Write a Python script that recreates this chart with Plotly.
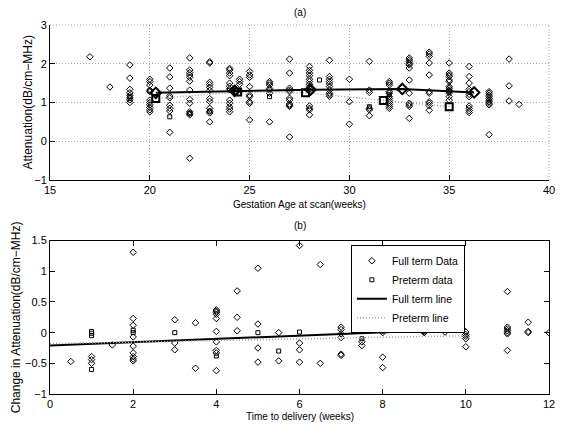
import plotly.graph_objects as go
from plotly.subplots import make_subplots

# ---------------- Panel (a) data ----------------
ga_weeks = [17, 18, 19, 20, 21, 22, 23, 24, 24.3, 24.5, 25, 26, 27, 28, 29, 30,
            31, 32, 33, 34, 35, 36, 37, 38, 38.5]
ga_full_values = [
    [2.18],
    [1.40],
    [1.97, 1.63, 1.34, 1.25, 1.18, 1.12, 1.07, 1.0],
    [1.6, 1.54, 1.45, 1.32, 1.28, 1.06, 1.0, 0.94, 0.87, 0.81, 0.76],
    [1.89, 1.66, 1.37, 1.17, 1.12, 0.93, 0.85, 0.78, 0.23],
    [2.15, 1.84, 1.77, 1.71, 1.65, 1.55, 1.32, 1.08, 0.98, 0.76, 0.72, 0.68, -0.44],
    [2.05, 2.02, 1.52, 1.46, 1.39, 1.31, 1.1, 1.03, 0.85, 0.77, 0.73, 0.5],
    [1.88, 1.84, 1.76, 1.69, 1.5, 1.42, 1.35, 1.06, 0.98, 0.89, 0.83, 0.76],
    [1.35, 1.3, 1.26],
    [1.6, 1.54, 1.47],
    [1.8, 1.71, 1.65, 1.41, 1.19, 1.15, 1.02, 0.98, 0.55],
    [1.54, 1.5, 1.45, 1.36, 1.32, 1.24, 0.5],
    [2.12, 1.76, 1.37, 1.32, 1.28, 1.11, 1.06, 0.96, 0.93, 0.9, 0.11],
    [1.93, 1.83, 1.76, 1.69, 1.6, 1.54, 1.47, 1.41, 1.35, 1.3, 0.91, 0.85, 0.81, 0.68],
    [2.09, 1.67, 1.6, 1.54, 1.48, 1.41, 1.32, 1.24, 1.2, 1.16],
    [1.6, 1.02, 0.44],
    [2.06, 1.32, 1.26, 0.85, 0.81, 0.66],
    [1.54, 1.5, 1.45, 1.28, 1.24, 1.15, 1.1, 1.05, 1.0, 0.95, 0.9, 0.85],
    [2.15, 2.1, 2.05, 2.0, 1.97, 1.89, 1.58, 1.24, 0.98, 0.94, 0.9, 0.59],
    [2.3, 2.25, 2.19, 2.02, 1.71, 1.28, 1.24, 1.02, 0.98, 0.92, 0.8],
    [2.02, 1.76, 1.71, 1.67, 1.58, 1.54, 1.41, 1.37, 1.32, 1.28, 1.24, 1.15, 1.06],
    [1.93, 1.67, 1.5, 1.34, 1.28, 1.21, 1.15, 0.91, 0.85, 0.79, 0.74],
    [1.28, 1.24, 1.19, 1.15, 1.1, 1.06, 1.02, 0.98, 0.94, 0.17],
    [2.12, 1.43, 1.04],
    [0.95],
]
ga_pre_x = [19, 20, 21, 22, 23, 24, 26, 28.5, 31, 32, 35]
ga_pre_y = [1.15, 1.3, 0.63, 0.72, 0.78, 1.32, 1.15, 1.58, 0.89, 1.2, 1.3]

ga_full_line_x = [20.3, 24.25, 28.05, 32.65, 36.25]
ga_full_line_y = [1.25, 1.30, 1.33, 1.35, 1.26]
ga_pre_line_x = [20.3, 24.4, 27.8, 31.7, 35.0]
ga_pre_line_y = [1.10, 1.27, 1.25, 1.05, 0.89]

# ---------------- Panel (b) data ----------------
td_weeks = [0.5, 1, 1.5, 2, 3, 3.5, 4, 4.5, 5, 5.5, 6, 6.5, 7, 7.5, 8, 9, 9.5, 10, 11, 11.5, 12]
td_full_values = [
    [-0.47],
    [-0.39, -0.44, -0.5],
    [-0.2],
    [1.31, 0.23, 0.12, -0.07, -0.22, -0.33, -0.39, -0.43, -0.46],
    [0.21, -0.17, -0.28],
    [0.16, -0.58],
    [0.37, 0.35, 0.33, 0.3, 0.23, 0.02, -0.15, -0.29, -0.33, -0.62],
    [0.68, 0.25, 0.03],
    [1.05, 0.14, -0.25, -0.48],
    [0.0, -0.46],
    [1.42, -0.17, -0.28, -0.48],
    [1.11, -0.5],
    [0.09, 0.05, -0.02, -0.08, -0.35, -0.37],
    [-0.15, -0.21],
    [0.14, 0.1, 0.07, 0.03, 0.0, -0.4, -0.57],
    [0.05, 0.03, 0.01, 0.0],
    [0.23, 0.01],
    [0.01, -0.03, -0.06, -0.1, -0.23],
    [0.67, 0.09, 0.06, 0.03, 0.0, -0.02, -0.29],
    [0.17, 0.02, 0.0],
    [0.0],
]
td_pre_x = [1, 1, 1, 1, 2, 2, 3, 4, 5, 5.5, 6, 7.5]
td_pre_y = [0.02, -0.01, -0.05, -0.6, 0.04, 0.0, 0.0, -0.38, 0.0, -0.3, 0.01, -0.1]

td_full_line_x = [0, 10]
td_full_line_y = [-0.21, 0.06]
td_pre_line_x = [0, 10]
td_pre_line_y = [-0.18, -0.05]


def expand(xs, groups):
    px, py = [], []
    for x, vals in zip(xs, groups):
        for v in vals:
            px.append(x)
            py.append(v)
    return px, py


FONT = "Liberation Sans, Arial, sans-serif"
GRID = "#a8a8a8"

fig = make_subplots(rows=2, cols=1, vertical_spacing=0.1)

ax_, ay_ = expand(ga_weeks, ga_full_values)
bx_, by_ = expand(td_weeks, td_full_values)

small_d = dict(symbol="diamond-open", size=5, color="black", line=dict(width=1, color="black"))
small_s = dict(symbol="square-open", size=4, color="black", line=dict(width=1, color="black"))

# Panel (a)
fig.add_trace(go.Scatter(x=ax_, y=ay_, mode="markers", marker=small_d, showlegend=False), 1, 1)
fig.add_trace(go.Scatter(x=ga_pre_x, y=ga_pre_y, mode="markers", marker=small_s, showlegend=False), 1, 1)
fig.add_trace(go.Scatter(x=ga_pre_line_x, y=ga_pre_line_y, mode="lines+markers",
                         line=dict(color="#a0a0a0", width=1.5, dash="1px,2px"),
                         marker=dict(symbol="square-open", size=7, color="black",
                                     line=dict(width=2, color="black")),
                         showlegend=False), 1, 1)
fig.add_trace(go.Scatter(x=ga_full_line_x, y=ga_full_line_y, mode="lines+markers",
                         line=dict(color="black", width=2),
                         marker=dict(symbol="diamond-open", size=8, color="black",
                                     line=dict(width=2, color="black")),
                         showlegend=False), 1, 1)

# Panel (b)
fig.add_trace(go.Scatter(x=bx_, y=by_, mode="markers", marker=small_d, name="Full term Data"), 2, 1)
fig.add_trace(go.Scatter(x=td_pre_x, y=td_pre_y, mode="markers", marker=small_s, name="Preterm data"), 2, 1)
fig.add_trace(go.Scatter(x=td_full_line_x, y=td_full_line_y, mode="lines",
                         line=dict(color="black", width=2), name="Full term line"), 2, 1)
fig.add_trace(go.Scatter(x=td_pre_line_x, y=td_pre_line_y, mode="lines",
                         line=dict(color="#a0a0a0", width=1.5, dash="1px,2px"), name="Preterm line"), 2, 1)

tick_font = dict(family=FONT, size=11, color="black")
common = dict(ticks="inside", ticklen=5, tickcolor="black", tickwidth=1,
              showline=True, linecolor="black", linewidth=1, zeroline=False,
              tickfont=tick_font)

fig.update_xaxes(range=[15, 40], tickvals=[15, 20, 25, 30, 35, 40], showgrid=True,
                 gridcolor=GRID, griddash="1px,2px", gridwidth=1, mirror=False,
                 domain=[0, 1], row=1, col=1, **common)
fig.update_yaxes(range=[-1, 3], tickvals=[-1, 0, 1, 2, 3],
                 ticktext=["\u22121", "0", "1", "2", "3"], showgrid=True,
                 gridcolor=GRID, griddash="1px,2px", gridwidth=1, mirror=False,
                 domain=[0.58, 1.0], row=1, col=1, **common)
fig.update_xaxes(range=[0, 12], tickvals=[0, 2, 4, 6, 8, 10, 12], showgrid=False,
                 mirror="ticks", domain=[0, 1], row=2, col=1, **common)
fig.update_yaxes(range=[-1, 1.5], tickvals=[-1, -0.5, 0, 0.5, 1, 1.5],
                 ticktext=["\u22121", "\u22120.5", "0", "0.5", "1", "1.5"],
                 showgrid=False, mirror="ticks", domain=[0, 0.4157], row=2, col=1, **common)

# dotted frame on the top and right edges of panel (a) (grid at the range ends)
frame_shapes = [
    dict(type="line", xref="x domain", yref="y domain", x0=0, x1=1, y0=1, y1=1,
         line=dict(color=GRID, width=1, dash="1px,2px"), layer="below"),
    dict(type="line", xref="x domain", yref="y domain", x0=1, x1=1, y0=0, y1=1,
         line=dict(color=GRID, width=1, dash="1px,2px"), layer="below"),
]

ann_font = dict(family=FONT, size=10, color="black")
ylab_font = dict(family=FONT, size=12, color="black")
annotations = [
    dict(text="(a)", x=0.5, y=1.0, xref="paper", yref="paper", yshift=13,
         showarrow=False, font=ann_font, xanchor="center", yanchor="middle"),
    dict(text="(b)", x=0.5, y=0.4157, xref="paper", yref="paper", yshift=15,
         showarrow=False, font=ann_font, xanchor="center", yanchor="middle"),
    dict(text="Gestation Age at scan(weeks)", x=0.5, y=0.58, xref="paper", yref="paper",
         yshift=-25, showarrow=False, font=ann_font, xanchor="center", yanchor="middle"),
    dict(text="Time to delivery (weeks)", x=0.5, y=0.0, xref="paper", yref="paper",
         yshift=-22, showarrow=False, font=ann_font, xanchor="center", yanchor="middle"),
    dict(text="Attenuation(dB/cm\u2212MHz)", x=0, y=0.79, xref="paper", yref="paper",
         xshift=-22, textangle=-90, showarrow=False, font=ylab_font,
         xanchor="center", yanchor="middle"),
    dict(text="Change in Attenuation(dB/cm\u2212MHz)", x=0, y=0.208, xref="paper", yref="paper",
         xshift=-34, textangle=-90, showarrow=False, font=ylab_font,
         xanchor="center", yanchor="middle"),
]

fig.update_layout(
    width=566, height=426,
    margin=dict(l=50, r=11, t=25, b=32),
    paper_bgcolor="white", plot_bgcolor="white",
    font=dict(family=FONT, size=11, color="black"),
    annotations=annotations,
    shapes=frame_shapes,
    legend=dict(x=0.603, y=0.403, xanchor="left", yanchor="top",
                bordercolor="black", borderwidth=1, bgcolor="white",
                font=dict(family=FONT, size=10.5, color="black"),
                itemwidth=30, tracegroupgap=0),
)

fig.write_html("out.html", config={"displayModeBar": False},
               post_script="document.body.style.margin='0px';document.body.style.overflow='hidden';")
